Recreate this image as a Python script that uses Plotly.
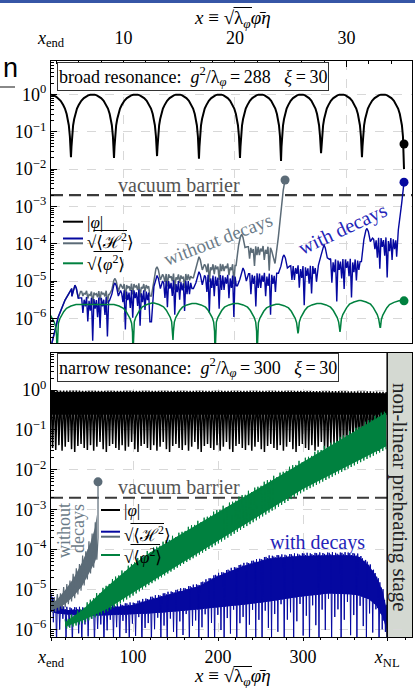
import numpy as np
import plotly.graph_objects as go

# ---------------- values ----------------
X_END = 3.5            # x_end (left edge of both panels)
X_NL = 399.0           # x_NL  (start of the non-linear stage)
BARRIER = 2.0e-3       # "vacuum barrier" level

Y_TICK_EXP = [0, -1, -2, -3, -4, -5, -6]
TOP_X_TICKS = [10, 20, 30]
BOT_X_TICKS = [100, 200, 300]

# ---- top panel (broad resonance) ----
PHI_TOP_DIP_X = [1.43, 5.29, 9.15, 13.01, 16.77, 20.45, 24.13, 27.72, 31.39, 35.16]
PHI_TOP_DIP_LOGY = [-1.70, -1.68, -1.70, -1.65, -1.72, -1.70, -1.78, -1.57, -1.68, -2.00]
ARCH_FRAC = [0.0, 0.012, 0.025, 0.05, 0.075, 0.10, 0.14, 0.18, 0.24, 0.30, 0.34, 0.40, 0.45, 0.50]
ARCH_VAL = [None, 0.04, 0.075, 0.15, 0.22, 0.30, 0.42, 0.52, 0.68, 0.80, 0.87, 0.95, 0.99, 1.0]
PHI_TOP_END = [35.16, 0.047]

GREEN_TOP_DIP_X = [4.04, 10.85, 14.44, 18.21, 21.98, 25.65, 29.42, 33.01]
GREEN_TOP_DIP_LOGY = [-7.0, -7.0, -6.58, -7.0, -7.0, -6.40, -6.36, -6.24]
GREEN_TOP_LEVEL_LOGY = [-5.72, -5.63, -5.59, -5.60, -5.60, -5.62, -5.60, -5.52, -5.53]
GREEN_TOP_END_X = 35.16
CUSP_DX = [0.04, 0.12, 0.25, 0.40, 0.60, 0.85, 1.25, 1.70]
CUSP_DLOG = [-0.75, -0.50, -0.38, -0.30, -0.19, -0.10, -0.04, 0.0]

RISE_X = [3.55, 4.15, 4.76, 5.36]
RISE_LOGY = [-6.70, -5.96, -5.51, -5.20]

BLUE_TOP_PEAK_X = [5.65, 9.24, 13.01, 16.77, 20.72, 24.40, 27.98, 31.84]
BLUE_TOP_PEAK_LOGY = [-5.11, -5.05, -4.85, -4.75, -4.65, -4.30, -4.03, -3.59]
BLUE_TOP_BAND_TOP = [-5.45, -5.25, -5.00, -4.85, -4.80, -4.60, -4.42, -3.85]
BLUE_TOP_BAND_LOW = [-6.60, -6.30, -6.00, -5.96, -5.90, -5.65, -5.55, -5.02]
BLUE_TOP_END_X = [34.50, 34.65, 34.95, 35.16]
BLUE_TOP_END_LOGY = [-4.35, -3.63, -2.92, -2.35]

GRAY_TOP_PEAK_X = [5.65, 9.24, 13.01, 16.77, 20.60]
GRAY_TOP_PEAK_LOGY = [-5.11, -4.93, -4.62, -4.35, -3.75]
GRAY_TOP_BAND_TOP = [-5.28, -5.08, -4.82, -4.55, -4.08]
GRAY_TOP_BAND_LOW = [-5.62, -5.48, -5.28, -5.08, -4.72]
GRAY_TOP_END_X = [23.29, 23.59, 23.89, 24.13, 24.33, 24.49]
GRAY_TOP_END_LOGY = [-4.19, -4.53, -3.82, -3.10, -2.56, -2.29]

SPIKE_FRAC = [0.35, 0.2, 0.55, 0.3, 1.0, 0.25, 0.45, 0.7, 0.2, 0.4, 0.9, 0.3, 0.5, 0.25, 0.8, 0.35]
TOP_JITTER = [0.0, -0.05, 0.02, -0.08, 0.0, -0.03, -0.06, 0.01]

# ---- bottom panel (narrow resonance) ----
OSC_PERIOD = 3.72
PHI_BOT_ENV_X = [3.5, 100, 200, 300, 380, 399]
PHI_BOT_TOP_LOGY = [-0.01, -0.02, -0.02, -0.02, -0.03, -0.05]
PHI_BOT_SOLID_LOGY = [-0.62, -0.62, -0.62, -0.62, -0.62, -0.62]
PHI_BOT_TIP_LOGY = [-1.45, -1.50, -1.38, -1.52, -1.42, -1.30, -1.48, -1.55, -1.40, -1.35]

GREEN_BOT_X = [20, 40, 70, 100, 120, 160, 200, 250, 300, 350, 398]
GREEN_BOT_UP_LOGY = [-5.75, -5.45, -4.85, -4.30, -4.00, -3.50, -2.99, -2.36, -1.73, -1.10, -0.49]
GREEN_BOT_LO_LOGY = [-6.00, -5.85, -5.55, -5.15, -4.87, -4.35, -3.85, -3.20, -2.55, -2.00, -1.48]

BLUE_BOT_X = [3.5, 10, 20, 40, 60, 80, 100, 119, 150, 178, 198, 230, 260, 296, 330, 355, 366, 378, 386, 394, 398]
BLUE_BOT_UP_LOGY = [-5.10, -5.30, -5.45, -5.45, -5.42, -5.38, -5.33, -5.20, -5.02, -4.85, -4.62,
                    -4.35, -4.16, -4.10, -4.08, -4.08, -4.12, -4.35, -4.60, -5.00, -5.40]
BLUE_BOT_LO_LOGY = [-5.55, -5.60, -5.62, -5.65, -5.65, -5.64, -5.62, -5.60, -5.55, -5.50, -5.45,
                    -5.38, -5.30, -5.18, -5.10, -5.12, -5.15, -5.25, -5.40, -5.70, -6.00]
BLUE_BOT_FLOOR_LOGY = -6.4
BLUE_BOT_SPIKE = [0.3, 1.0, 0.5, 0.15, 0.8, 0.4, 1.0, 0.2, 0.6, 0.9, 0.3, 0.7, 0.1, 1.0, 0.45]

GRAY_BOT_X = [3.5, 10, 20, 30, 40, 50, 55, 57.5]
GRAY_BOT_UP_LOGY = [-5.20, -5.15, -4.90, -4.60, -4.20, -3.70, -3.35, -3.00]
GRAY_BOT_LO_LOGY = [-5.60, -5.55, -5.45, -5.25, -5.00, -4.60, -4.40, -4.25]
GRAY_BOT_END = [58.8, -3.7, -2.30]

# ---------------- colours / layout ----------------
W, H = 415, 688
L, R = 51, 412
T1, B1 = 61, 343
T2, B2 = 353, 637
TOP_XMAX = X_END + (R - L) / 11.15
BOT_XMAX = X_END + (R - L) / 0.85
TOP_YR = [-6.66, 0.898]
BOT_YR = [-6.19, 0.93]

BLACK = "#000000"
BLUE = "#0508a0"
GRAY = "#5b6b77"
GREEN = "#00813f"
SERIF = "Liberation Serif, DejaVu Serif, serif"


def pxx(v):
    return v / W


def pxy(v):
    return 1 - v / H


def pw(a):
    return [10.0 ** v for v in a]


# ---------------- curve builders ----------------
def phi_top():
    xs, ys = [], []
    for i in range(len(PHI_TOP_DIP_X) - 1):
        d0, d1 = PHI_TOP_DIP_X[i], PHI_TOP_DIP_X[i + 1]
        per = d1 - d0
        for f, v in zip(ARCH_FRAC, ARCH_VAL):
            xs.append(d0 + f * per)
            ys.append(10 ** PHI_TOP_DIP_LOGY[i] if v is None else v)
        for f, v in zip(ARCH_FRAC[-2::-1], ARCH_VAL[-2::-1]):
            xs.append(d1 - f * per)
            ys.append(10 ** PHI_TOP_DIP_LOGY[i + 1] if v is None else v)
    return xs, ys


def green_top():
    xs, ys = [], []
    lv = GREEN_TOP_LEVEL_LOGY
    for i, (d, dl) in enumerate(zip(GREEN_TOP_DIP_X, GREEN_TOP_DIP_LOGY)):
        for dx, dg in zip(CUSP_DX[::-1], CUSP_DLOG[::-1]):
            xs.append(d - dx)
            ys.append(max(lv[i] + dg, dl))
        xs.append(d)
        ys.append(dl)
        for dx, dg in zip(CUSP_DX, CUSP_DLOG):
            xs.append(d + dx)
            ys.append(max(lv[i + 1] + dg, dl))
    xs.append(GREEN_TOP_END_X)
    ys.append(lv[-1])
    return xs, pw(ys)


def band(x0, x1, top, low, step, phase):
    xs, ys = [], []
    k = 0
    while x0 + k * step <= x1:
        if k % 2 == 0:
            y = top + TOP_JITTER[(k // 2 + phase) % len(TOP_JITTER)]
        else:
            y = top - SPIKE_FRAC[(k // 2 + phase) % len(SPIKE_FRAC)] * (top - low)
        xs.append(x0 + k * step)
        ys.append(y)
        k += 1
    return xs, ys


def structured(px_, py_, btop, blow, ex, ey, step):
    xs, ys = list(RISE_X), list(RISE_LOGY)
    n = len(px_)
    for i in range(n):
        p, pk = px_[i], py_[i]
        before = ys[-1]
        hx = [p - 0.5, p - 0.28, p - 0.1, p, p + 0.12, p + 0.3, p + 0.5]
        hy = [before, pk - 0.3, pk - 0.05, pk, pk - 0.08, pk - 0.35, btop[i]]
        for a, b in zip(hx, hy):
            if a > xs[-1]:
                xs.append(a)
                ys.append(b)
        x1 = px_[i + 1] - 0.55 if i < n - 1 else ex[0] - 0.05
        bx, by = band(p + 0.6, x1, btop[i], blow[i], step, 3 * i)
        xs += bx
        ys += by
    xs += ex
    ys += ey
    return xs, pw(ys)


def phi_bot():
    n = int((X_NL - X_END) / (OSC_PERIOD / 2))
    xs = X_END + np.arange(n + 1) * OSC_PERIOD / 2
    top = np.interp(xs, PHI_BOT_ENV_X, PHI_BOT_TOP_LOGY)
    ys = [top[k] if k % 2 == 0 else PHI_BOT_TIP_LOGY[(k // 2) % len(PHI_BOT_TIP_LOGY)]
          for k in range(len(xs))]
    return list(xs), pw(ys)


def fill_poly(x, up, lo, du=0.0, dl=0.0):
    xs = list(x) + list(x)[::-1]
    ys = [u - du for u in up] + [v + dl for v in lo][::-1]
    return xs, pw(ys)


def zig(x0, x1, step, xp, up, lo, pattern):
    n = int((x1 - x0) / step)
    xs = x0 + np.arange(n + 1) * step
    u = np.interp(xs, xp, up)
    lw = np.interp(xs, xp, lo)
    ys = []
    for k in range(len(xs)):
        kind = pattern[k % len(pattern)]
        if kind == "u":
            ys.append(u[k] + TOP_JITTER[(k // 2) % len(TOP_JITTER)] * 0.8)
        elif kind == "l":
            ys.append(lw[k])
        else:
            s = BLUE_BOT_SPIKE[(k // 4) % len(BLUE_BOT_SPIKE)]
            ys.append(lw[k] - s * (lw[k] - BLUE_BOT_FLOOR_LOGY))
    return list(xs), pw(ys)


fig = go.Figure()


def line(x, y, color, width, xa="x", ya="y", fill=None, dash=None):
    fig.add_trace(go.Scatter(x=x, y=y, mode="lines", xaxis=xa, yaxis=ya, fill=fill,
                             fillcolor=color if fill else None,
                             line=dict(color=color, width=width, dash=dash), hoverinfo="skip",
                             showlegend=False))


def dot(x, y, color, xa="x", ya="y"):
    fig.add_trace(go.Scatter(x=[x], y=[y], mode="markers", xaxis=xa, yaxis=ya,
                             marker=dict(color=color, size=9), hoverinfo="skip",
                             showlegend=False))


# ---------------- top panel traces ----------------
line([X_END, TOP_XMAX], [BARRIER, BARRIER], "#3a3a3a", 2.2, dash="12px,6px")
x, y = phi_top()
line(x, y, BLACK, 2.0)
x, y = structured(GRAY_TOP_PEAK_X, GRAY_TOP_PEAK_LOGY, GRAY_TOP_BAND_TOP, GRAY_TOP_BAND_LOW,
                  GRAY_TOP_END_X, GRAY_TOP_END_LOGY, 0.11)
line(x, y, GRAY, 1.5)
x, y = structured(BLUE_TOP_PEAK_X, BLUE_TOP_PEAK_LOGY, BLUE_TOP_BAND_TOP, BLUE_TOP_BAND_LOW,
                  BLUE_TOP_END_X, BLUE_TOP_END_LOGY, 0.11)
line(x, y, BLUE, 1.4)
x, y = green_top()
line(x, y, GREEN, 1.5)
dot(PHI_TOP_END[0], PHI_TOP_END[1], BLACK)
dot(GRAY_TOP_END_X[-1], 10 ** GRAY_TOP_END_LOGY[-1], GRAY)
dot(BLUE_TOP_END_X[-1], 10 ** BLUE_TOP_END_LOGY[-1], BLUE)
dot(GREEN_TOP_END_X, 10 ** GREEN_TOP_LEVEL_LOGY[-1], GREEN)

# ---------------- bottom panel traces ----------------
line([X_END, X_NL], [BARRIER, BARRIER], "#3a3a3a", 2.2, "x2", "y2", dash="12px,6px")
x, y = fill_poly(PHI_BOT_ENV_X, PHI_BOT_TOP_LOGY, PHI_BOT_SOLID_LOGY, 0.03, 0.0)
line(x, y, BLACK, 0, "x2", "y2", fill="toself")
x, y = phi_bot()
line(x, y, BLACK, 1.5, "x2", "y2")

x, y = fill_poly(BLUE_BOT_X, BLUE_BOT_UP_LOGY, BLUE_BOT_LO_LOGY, 0.06, 0.0)
line(x, y, BLUE, 0, "x2", "y2", fill="toself")
x, y = zig(X_END, BLUE_BOT_X[-1], OSC_PERIOD / 4, BLUE_BOT_X, BLUE_BOT_UP_LOGY,
           BLUE_BOT_LO_LOGY, ["u", "l", "u", "s"])
x.append(X_NL)
y.append(10 ** BLUE_BOT_FLOOR_LOGY)
line(x, y, BLUE, 1.0, "x2", "y2")

x, y = fill_poly(GRAY_BOT_X, GRAY_BOT_UP_LOGY, GRAY_BOT_LO_LOGY, 0.12, 0.08)
line(x, y, GRAY, 0, "x2", "y2", fill="toself")
x, y = zig(X_END, GRAY_BOT_X[-1], OSC_PERIOD / 2, GRAY_BOT_X, GRAY_BOT_UP_LOGY,
           GRAY_BOT_LO_LOGY, ["u", "l"])
x += [GRAY_BOT_END[0], GRAY_BOT_END[0]]
y += [10 ** GRAY_BOT_END[1], 10 ** GRAY_BOT_END[2]]
line(x, y, GRAY, 1.2, "x2", "y2")
dot(GRAY_BOT_END[0], 10 ** GRAY_BOT_END[2], GRAY, "x2", "y2")

x, y = fill_poly(GREEN_BOT_X, GREEN_BOT_UP_LOGY, GREEN_BOT_LO_LOGY, 0.07, 0.07)
line(x, y, GREEN, 0, "x2", "y2", fill="toself")
x, y = zig(GREEN_BOT_X[0], GREEN_BOT_X[-1], OSC_PERIOD / 2, GREEN_BOT_X, GREEN_BOT_UP_LOGY,
           GREEN_BOT_LO_LOGY, ["u", "l"])
line(x, y, GREEN, 1.0, "x2", "y2")

# ---------------- axes ----------------
ytickvals = [10.0 ** e for e in Y_TICK_EXP]
yticktext = ["10<sup>%s</sup>" % (str(e).replace("-", "\u2212")) for e in Y_TICK_EXP]
yminor = [m * 10.0 ** e for e in range(-7, 1) for m in range(2, 10)]
common_axis = dict(showline=True, linecolor="black", linewidth=1.3, mirror=True,
                   zeroline=False, showgrid=True, gridcolor="#d8d8d8", griddash="dash",
                   gridwidth=1, tickfont=dict(family=SERIF, size=18, color="black"),
                   tickcolor="black", automargin=False)

fig.update_layout(
    width=W, height=H, margin=dict(l=0, r=0, t=0, b=0, autoexpand=False),
    paper_bgcolor="white", plot_bgcolor="white", showlegend=False,
    xaxis=dict(common_axis, domain=[pxx(L), pxx(R)], range=[X_END, TOP_XMAX], anchor="y",
               side="top", tickmode="array", tickvals=[X_END] + TOP_X_TICKS,
               ticktext=["<i>x</i><sub>end</sub>"] + [str(t) for t in TOP_X_TICKS],
               ticks="inside", ticklen=6, ticklabelstandoff=9,
               minor=dict(tickmode="array", tickvals=[4, 6, 8, 12, 14, 16, 18, 22, 24, 26, 28, 32, 34],
                          ticks="inside", ticklen=3, tickcolor="black", showgrid=False)),
    yaxis=dict(common_axis, domain=[pxy(B1), pxy(T1)], type="log", range=TOP_YR, anchor="x",
               tickmode="array", tickvals=ytickvals, ticktext=yticktext,
               ticks="inside", ticklen=6,
               minor=dict(tickmode="array", tickvals=yminor, ticks="inside", ticklen=3,
                          tickcolor="black", showgrid=False)),
    xaxis2=dict(common_axis, domain=[pxx(L), pxx(R)], range=[X_END, BOT_XMAX], anchor="y2",
                side="bottom", tickmode="array", tickvals=[X_END] + BOT_X_TICKS + [X_NL],
                ticktext=["<i>x</i><sub>end</sub>"] + [str(t) for t in BOT_X_TICKS] + ["<i>x</i><sub>NL</sub>"],
                ticks="outside", ticklen=3,
                minor=dict(tickmode="array",
                           tickvals=[v for v in range(20, 430, 20) if v % 100 != 0],
                           ticks="outside", ticklen=2, tickcolor="black", showgrid=False)),
    yaxis2=dict(common_axis, domain=[pxy(B2), pxy(T2)], type="log", range=BOT_YR, anchor="x2",
                tickmode="array", tickvals=ytickvals, ticktext=yticktext,
                ticks="inside", ticklen=6,
                minor=dict(tickmode="array", tickvals=yminor, ticks="inside", ticklen=3,
                           tickcolor="black", showgrid=False)),
)

# ---------------- shapes ----------------
shapes = [
    dict(type="rect", xref="x2", yref="y2 domain", x0=X_NL, x1=BOT_XMAX, y0=0, y1=1,
         fillcolor="#d4d9d2", line=dict(width=0), layer="below"),
    dict(type="line", xref="x2", yref="y2 domain", x0=X_NL, x1=X_NL, y0=0, y1=1,
         line=dict(color="black", width=1.5)),
    dict(type="rect", xref="paper", yref="paper", x0=0, x1=1, y0=pxy(3), y1=1,
         fillcolor="#3656a6", line=dict(width=0)),
    dict(type="line", xref="paper", yref="paper", x0=0, x1=pxx(15), y0=pxy(87), y1=pxy(87),
         line=dict(color="#888888", width=2)),
]


def hline(x0, x1, yp, color, width=2.0):
    shapes.append(dict(type="line", xref="paper", yref="paper", x0=pxx(x0), x1=pxx(x1),
                       y0=pxy(yp), y1=pxy(yp), line=dict(color=color, width=width)))


hline(63, 83, 221.7, BLACK)
hline(63, 83, 238.5, BLUE)
hline(63, 83, 243.3, GRAY)
hline(63, 83, 263.3, GREEN)
hline(101, 120, 510, BLACK)
hline(101, 120, 531.7, BLUE)
hline(101, 120, 536.7, GRAY)
hline(101, 120, 555, GREEN)
# radical overlines (legend entries and axis titles)
hline(93.5, 127, 230.5, BLACK, 1.0)
hline(93.5, 123, 251.5, BLACK, 1.0)
hline(130.5, 164, 523.5, BLACK, 1.0)
hline(130.5, 160, 544.5, BLACK, 1.0)
hline(233.5, 252, 7.5, BLACK, 1.0)
hline(233.5, 252, 666.5, BLACK, 1.0)
fig.update_layout(shapes=shapes)

# ---------------- text ----------------
XLABEL = "<i>x</i> \u2261 \u221a\u03bb<sub><i>\u03c6</i></sub><i>\u03c6\u0304\u03b7</i>"
H2 = "\u221a\u27e8\u210b<sup>2</sup>\u27e9"
P2 = "\u221a\u27e8<i>\u03c6</i><sup>2</sup>\u27e9"
PHI = "|<i>\u03c6</i>|"


def txt(s, x, y, size=18, color="black", angle=0, xanchor="center", family=SERIF, **kw):
    fig.add_annotation(text=s, x=pxx(x), y=pxy(y), xref="paper", yref="paper",
                       showarrow=False, textangle=angle, xanchor=xanchor, yanchor="middle",
                       font=dict(family=family, size=size, color=color), **kw)


txt(XLABEL, 232, 19, size=19)
txt(XLABEL, 232, 677, size=19)
txt("broad resonance:  <i>g</i><sup>2</sup>/\u03bb<sub><i>\u03c6</i></sub>\u2009=\u2009288   <i>\u03be</i>\u2009=\u200930",
    57, 76.5, size=18, xanchor="left", bordercolor="#333333", borderwidth=1, borderpad=1,
    bgcolor="white")
txt("narrow resonance:  <i>g</i><sup>2</sup>/\u03bb<sub><i>\u03c6</i></sub>\u2009=\u2009300   <i>\u03be</i>\u2009=\u200930",
    57, 368, size=18, xanchor="left", bordercolor="#333333", borderwidth=1, borderpad=1,
    bgcolor="white")
txt("vacuum barrier", 179, 185, color="#555555", size=20)
txt("vacuum barrier", 179, 487, color="#555555", size=20)
txt("without decays", 218, 240, color="#6b7b88", size=19, angle=-21)
txt("with decays", 342, 229, color="#2424b8", size=20, angle=-25)
txt("without", 64, 531, color="#6b7b88", size=18, angle=-90)
txt("decays", 78, 529, color="#6b7b88", size=18, angle=-90)
txt("with decays", 317, 542, color="#2424b8", size=20)
txt("non-linear preheating stage", 400, 497, color="#222222", size=21, angle=90)

txt(PHI, 85, 222, size=17, xanchor="left")
txt(H2, 85, 241, size=17, xanchor="left")
txt(P2, 85, 262.5, size=17, xanchor="left")
txt(PHI, 122, 510, size=17, xanchor="left")
txt(H2, 122, 534, size=17, xanchor="left")
txt(P2, 122, 555.5, size=17, xanchor="left")

txt("n", 1, 68, size=27, xanchor="left", family="Liberation Sans, Arial, sans-serif")

fig.write_html("out.html", config={"displayModeBar": False},
               post_script="document.body.style.margin='0px';"
                           "document.body.style.overflow='hidden';")
